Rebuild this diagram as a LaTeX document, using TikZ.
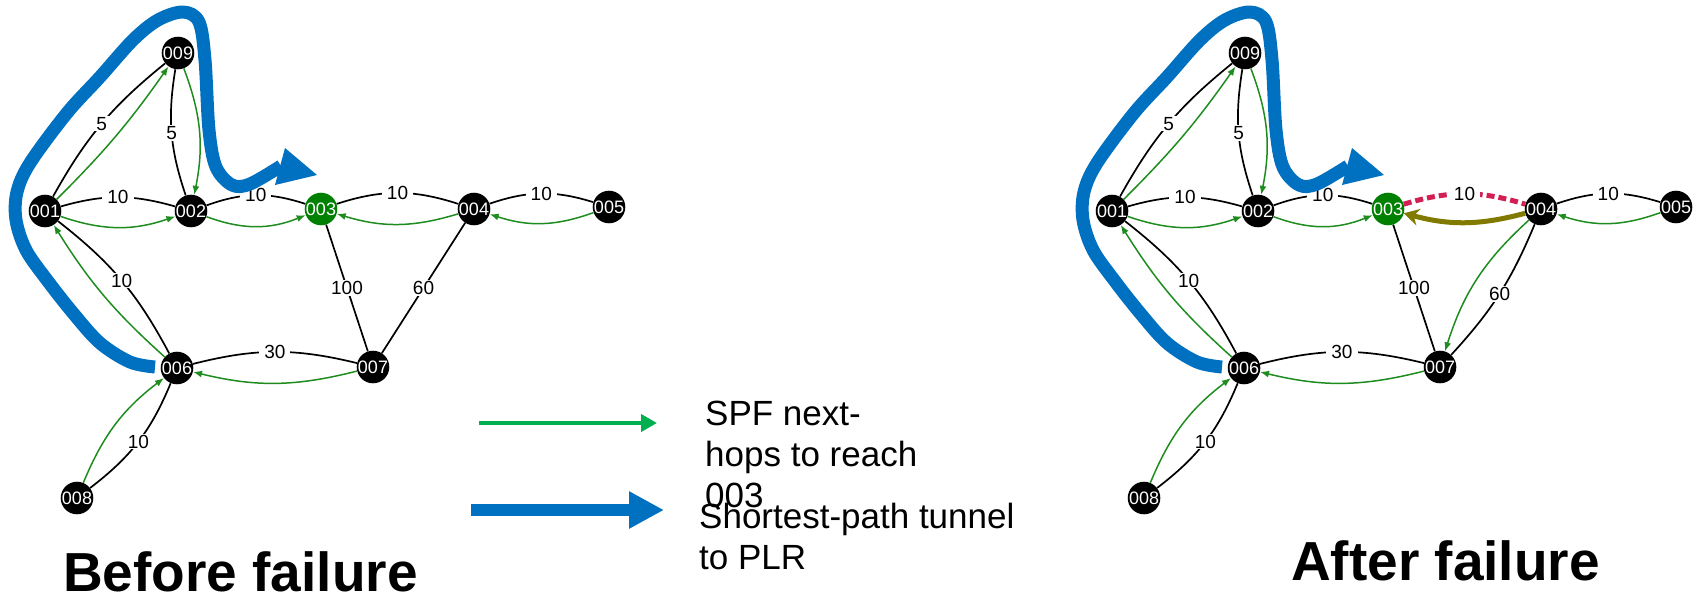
\documentclass[tikz,border=0pt]{standalone}
\usepackage{fontspec}
\setmainfont{Liberation Sans}
\usetikzlibrary{arrows.meta}

\definecolor{tunnelblue}{RGB}{0,112,192}
\definecolor{hopgreen}{RGB}{30,140,30}
\definecolor{keygreen}{RGB}{0,176,80}
\definecolor{destgreen}{RGB}{0,128,0}
\definecolor{failred}{RGB}{210,32,84}
\definecolor{repairolive}{RGB}{128,122,0}

\begin{document}
\begin{tikzpicture}[x=1pt,y=1pt,
  router/.style={circle, fill=black, minimum size=31pt, inner sep=0pt, text=white,
                 font=\fontsize{18}{18}\selectfont},
  dest/.style={router, fill=destgreen},
  link/.style={draw=black, line width=1.7pt},
  cost/.style={fill=white, inner xsep=5pt, inner ysep=1pt, text=black,
               font=\fontsize{19}{19}\selectfont},
  hop/.style={draw=hopgreen, line width=1.5pt, -{Latex[length=9pt,width=7pt]}},
  failed/.style={draw=failred, line width=5pt, dash pattern=on 8pt off 4pt},
  repair/.style={draw=repairolive, line width=5pt, -{Stealth[length=15pt,width=17pt]}},
  tunnel/.style={draw=tunnelblue, line width=13pt, line join=round},
  title/.style={anchor=base west, inner sep=0pt, font=\fontsize{55}{55}\selectfont\bfseries},
  keytext/.style={anchor=base west, inner sep=0pt, align=left, font=\fontsize{35}{41}\selectfont}
]
\useasboundingbox (0,0) rectangle (1696,-595);

% the two copies of the topology: before (L) and after (R) the failure
\foreach \g/\dx in {L/0,R/1067}{
  \begin{scope}[xshift=\dx pt]
    \node[router] (\g001) at (45,-211) {001};
    \node[router] (\g002) at (191,-211) {002};
    \node[dest]   (\g003) at (321,-209) {003};
    \node[router] (\g004) at (474,-209) {004};
    \node[router] (\g005) at (609,-207) {005};
    \node[router] (\g006) at (177,-368) {006};
    \node[router] (\g007) at (373,-367) {007};
    \node[router] (\g008) at (77,-498) {008};
    \node[router] (\g009) at (178,-53) {009};
    \coordinate (\g tail) at (155,-367);
    \coordinate (\g kink) at (281,-166);
    \coordinate (\g tip)  at (317,-175);
    \coordinate (\g barbA) at (285,-148);
    \coordinate (\g barbB) at (275,-185);
  \end{scope}
  % links with their costs
  \draw[link] (\g001) to[bend left=11] node[cost]{5} (\g009);
  \draw[link] (\g009) to[bend right=14] node[cost]{5} (\g002);
  \draw[link] (\g001) to[bend left=16] node[cost]{10} (\g002);
  \draw[link] (\g002) to[bend left=19] node[cost]{10} (\g003);
  \draw[link] (\g004) to[bend left=18] node[cost]{10} (\g005);
  \draw[link] (\g001) to[bend left=12] node[cost]{10} (\g006);
  \draw[link] (\g006) to[bend left=14] node[cost]{30} (\g007);
  \draw[link] (\g008) to[bend right=15] node[cost]{10} (\g006);
  \draw[link] (\g003) -- node[cost]{100} (\g007);
  % SPF next-hops towards 003
  \draw[hop] (\g001) to[bend right=5] (\g009);
  \draw[hop] (\g009) to[bend left=16] (\g002);
  \draw[hop] (\g001) to[bend right=19] (\g002);
  \draw[hop] (\g002) to[bend right=21] (\g003);
  \draw[hop] (\g005) to[bend left=19] (\g004);
  \draw[hop] (\g006) to[bend left=8] (\g001);
  \draw[hop] (\g007) to[bend left=14] (\g006);
  \draw[hop] (\g008) to[bend left=15] (\g006);
}

% before the failure
\draw[link] (L003) to[bend left=18] node[cost]{10} (L004);
\draw[link] (L004) -- node[cost]{60} (L007);
\draw[hop] (L004) to[bend left=17] (L003);

% after the failure of link 003-004
\draw[failed] (R003) to[bend left=17] node[cost]{10} (R004);
\draw[link] (R004) to[bend left=10] node[cost]{60} (R007);
\draw[hop] (R004) to[bend right=15] (R007);
\draw[repair] (R004) to[bend left=15] (R003);

% shortest-path tunnels from 006 to the PLR
\foreach \g/\dx in {L/0,R/1067}{
  \begin{scope}[xshift=\dx pt]
    \draw[tunnel] plot[smooth, tension=0.55] coordinates {
      (155,-367) (130,-362) (100,-343) (73,-313) (47,-280) (26,-250) (16,-220)
      (17,-192) (30,-163) (67,-113) (100,-77) (133,-40) (158,-20) (183,-12)
      (199,-22) (205,-60) (209,-130) (216,-167) (232,-185) (250,-184) (281,-166)};
  \end{scope}
  \fill[tunnelblue] (\g barbA) -- (\g tip) -- (\g barbB) -- cycle;
}

% legend (multi-line keys are anchored at the baseline of their last line)
\coordinate (hopA) at (479,-423);
\coordinate (hopB) at (657,-423);
\coordinate (tunA) at (471,-510);
\coordinate (tunB) at (664,-510);
\draw[keygreen, line width=4pt, -{Triangle[length=16pt,width=17pt]}] (hopA) -- (hopB);
\draw[tunnelblue, line width=12pt, -{Triangle[length=35pt,width=35pt]}] (tunA) -- (tunB);
\node[keytext] (hopkey) at (705,-507) {SPF next-\\hops to reach\\003};
\node[keytext] (tunkey) at (699,-569) {Shortest-path tunnel\\to PLR};

% captions
\node[title] (before) at (63,-591) {Before failure};
\node[title] (after) at (1291,-580) {After failure};
\end{tikzpicture}
\end{document}
